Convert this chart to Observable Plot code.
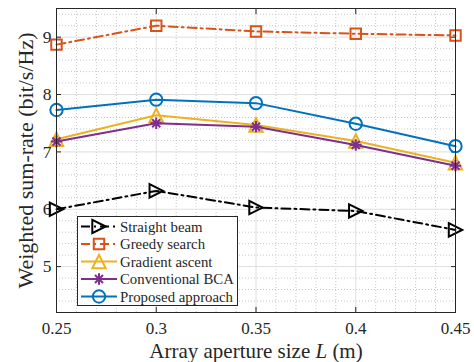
<!DOCTYPE html>
<html><head><meta charset="utf-8">
<script src="https://cdn.jsdelivr.net/npm/d3@7"></script>
<script src="https://cdn.jsdelivr.net/npm/@observablehq/plot@0.6"></script>
<style>
body{margin:0;background:#fff;}
#wrap{position:relative;width:474px;height:362px;font-family:'Liberation Serif','DejaVu Serif',serif;color:#262626;}
#wrap svg text{font-family:'Liberation Serif','DejaVu Serif',serif;}
#legend{position:absolute;left:77px;top:216px;}
</style></head><body><div id="wrap"></div>
<script>
const apertures = [0.25, 0.3, 0.35, 0.4, 0.45];
const straightBeam = [6.00, 6.32, 6.03, 5.97, 5.64];
const greedySearch = [8.87, 9.20, 9.10, 9.06, 9.03];
const gradientAscent = [7.22, 7.64, 7.47, 7.19, 6.81];
const conventionalBCA = [7.18, 7.50, 7.44, 7.12, 6.76];
const proposedApproach = [7.73, 7.91, 7.85, 7.49, 7.10];
const seriesNames = ["Straight beam", "Greedy search", "Gradient ascent", "Conventional BCA", "Proposed approach"];
const xTicks = [0.25, 0.3, 0.35, 0.4, 0.45];
const xTickLabels = ["0.25", "0.3", "0.35", "0.4", "0.45"];
const yTicks = [5, 6, 7, 8, 9];
const yTickLabels = ["5", "6", "7", "8", "9"];
const xMinor = [0.26,0.27,0.28,0.29,0.31,0.32,0.33,0.34,0.36,0.37,0.38,0.39,0.41,0.42,0.43,0.44];
const yMinor = [4.4,4.6,4.8,5.2,5.4,5.6,5.8,6.2,6.4,6.6,6.8,7.2,7.4,7.6,7.8,8.2,8.4,8.6,8.8,9.2,9.4];
const xLabel = "Array aperture size L (m)";
const yLabel = "Weighted sum-rate (bit/s/Hz)";

const colors = ["#000000", "#D95319", "#EDB120", "#7E2F8E", "#0072BD"];
const dashes = ["9,4,2,4", "9,4,2,4", null, null, null];
const values = [straightBeam, greedySearch, gradientAscent, conventionalBCA, proposedApproach];

const rad = s => Math.sqrt(s / Math.PI);
const triRight = {draw(c, s){const r = rad(s); c.moveTo(r, 0); c.lineTo(-r, -r); c.lineTo(-r, r); c.closePath();}};
const triUp = {draw(c, s){const r = rad(s); c.moveTo(0, -r); c.lineTo(r, r); c.lineTo(-r, r); c.closePath();}};
const square = {draw(c, s){const r = rad(s) * 0.78; c.moveTo(-r, -r); c.lineTo(r, -r); c.lineTo(r, r); c.lineTo(-r, r); c.closePath();}};
const circle = {draw(c, s){const r = rad(s) * 0.92; c.moveTo(r, 0); c.arc(0, 0, r, 0, 2 * Math.PI);}};
const asterisk = {draw(c, s){const r = rad(s) * 0.85; const d = r * Math.SQRT1_2;
  c.moveTo(-r, 0); c.lineTo(r, 0); c.moveTo(0, -r); c.lineTo(0, r);
  c.moveTo(-d, -d); c.lineTo(d, d); c.moveTo(-d, d); c.lineTo(d, -d);}};
const symbols = [triRight, square, triUp, asterisk, circle];

const rows = seriesNames.flatMap((name, i) => apertures.map((x, j) => ({name, x, y: values[i][j]})));
const FONT = "'Liberation Serif','DejaVu Serif',serif";

const marks = [
  Plot.gridX(xMinor, {stroke: "#c8c8c8", strokeOpacity: 1, strokeDasharray: "1,2"}),
  Plot.gridY(yMinor, {stroke: "#c8c8c8", strokeOpacity: 1, strokeDasharray: "1,2"}),
  Plot.gridX(xTicks, {stroke: "#dedede", strokeOpacity: 1}),
  Plot.gridY(yTicks, {stroke: "#dedede", strokeOpacity: 1}),
  Plot.axisX(xTicks, {anchor: "bottom", tickSize: -5, tickPadding: 14, label: null, tickFormat: (d, i) => xTickLabels[i], stroke: "#262626", fontSize: 17}),
  Plot.axisX(xTicks, {anchor: "top", tickSize: -5, label: null, tickFormat: () => "", stroke: "#262626"}),
  Plot.axisY(yTicks, {anchor: "left", tickSize: -5, tickPadding: 10, label: null, tickFormat: (d, i) => yTickLabels[i], stroke: "#262626", fontSize: 17.5}),
  Plot.axisY(yTicks, {anchor: "right", tickSize: -5, label: null, tickFormat: () => "", stroke: "#262626"}),
  Plot.text([xLabel], {frameAnchor: "bottom", lineAnchor: "middle", dy: 38.5, fontSize: 21, fill: "#262626"}),
  Plot.text([yLabel], {frameAnchor: "left", textAnchor: "middle", lineAnchor: "middle", rotate: -90, dx: -30.5, fontSize: 22, fill: "#262626"})
];
seriesNames.forEach((name, i) => {
  const data = rows.filter(d => d.name === name);
  marks.push(Plot.line(data, {x: "x", y: "y", stroke: colors[i], strokeWidth: 2, strokeDasharray: dashes[i]}));
  marks.push(Plot.dot(data, {x: "x", y: "y", stroke: colors[i], strokeWidth: 2, fill: "none", symbol: symbols[i], r: 6.7}));
});
marks.push(Plot.frame({stroke: "#262626", strokeWidth: 1}));

const chart = Plot.plot({
  width: 474, height: 362,
  marginLeft: 56, marginRight: 19, marginTop: 8, marginBottom: 50,
  x: {domain: [0.25, 0.45]},
  y: {domain: [4.2, 9.5]},
  style: {fontFamily: FONT, fontSize: "17px", color: "#262626", background: "#fff", overflow: "visible"},
  marks
});
const wrap = document.getElementById("wrap");
wrap.appendChild(chart);

// italic L in x label
d3.select(chart).selectAll("text").filter(function(){return this.textContent === xLabel;}).each(function(){
  const t = d3.select(this); t.text("");
  const parts = xLabel.split(" L ");
  t.append("tspan").text(parts[0] + " ");
  t.append("tspan").attr("font-style", "italic").text("L");
  t.append("tspan").text(" " + parts[1]);
});

// legend
const lw = 161, lh = 90, rowH = 17.5;
const leg = d3.select(wrap).append("svg").attr("id", "legend").attr("width", lw).attr("height", lh);
leg.append("rect").attr("x", 0.5).attr("y", 0.5).attr("width", lw - 1).attr("height", lh - 1).attr("fill", "#fff").attr("stroke", "#262626");
seriesNames.forEach((name, i) => {
  const cy = 10.5 + i * rowH;
  const g = leg.append("g");
  g.append("line").attr("x1", 4).attr("x2", 40).attr("y1", cy).attr("y2", cy).attr("stroke", colors[i]).attr("stroke-width", 2).attr("stroke-dasharray", dashes[i]);
  g.append("path").attr("transform", `translate(22,${cy})`).attr("d", d3.symbol(symbols[i], Math.PI * 6.7 * 6.7)()).attr("fill", "none").attr("stroke", colors[i]).attr("stroke-width", 2);
  g.append("text").attr("x", 43).attr("y", cy).attr("dy", "0.35em").attr("font-family", FONT).attr("font-size", 14.8).attr("fill", "#262626").text(name);
});
</script></body></html>
